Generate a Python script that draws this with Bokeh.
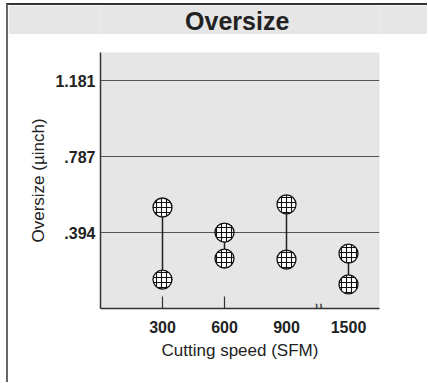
import math
import numpy as np
from bokeh.plotting import figure
from bokeh.layouts import column
from bokeh.models import FixedTicker, Label, ColumnDataSource
from bokeh.core.properties import value
from bokeh.embed import file_html
from bokeh.resources import INLINE

# ---- data ----
title_text = "Oversize"
speeds = ["300", "600", "900", "1500"]
oversize_high = [0.524, 0.394, 0.540, 0.285]
oversize_low = [0.150, 0.259, 0.254, 0.125]
y_ticks = [0.394, 0.787, 1.181]
y_tick_labels = [".394", ".787", "1.181"]
ticked_speeds = ["300", "600"]
x_label = "Cutting speed (SFM)"
y_label = "Oversize (\u00b5inch)"

FONT = "Liberation Sans"
TXT = "#222222"

x_pos = list(range(1, len(speeds) + 1))
pos_of = dict(zip(speeds, x_pos))

W = 419

# ---- title band ----
pt = figure(width=W, height=29, x_range=(0, 1), y_range=(0, 1),
            toolbar_location=None, output_backend="svg",
            x_axis_type=None, y_axis_type=None, min_border=0)
pt.grid.visible = False
pt.background_fill_color = "#e6e6e6"
pt.border_fill_color = "#e6e6e6"
pt.outline_line_color = None
pt.text(x=[0.5 - 0.01], y=[0.45], text=[title_text], text_font=value(FONT),
        text_font_style="bold", text_font_size="25px", text_color=TXT,
        text_align="center", text_baseline="middle")

# ---- main chart ----
p = figure(width=W, height=348, x_range=(0, 4.5), y_range=(0, 1.328),
           toolbar_location=None, output_backend="svg",
           min_border_left=92, min_border_right=W - 371,
           min_border_top=18, min_border_bottom=74)
p.background_fill_color = "#e6e6e6"
p.border_fill_color = "white"
p.outline_line_color = None
p.xgrid.visible = False
p.ygrid.ticker = FixedTicker(ticks=y_ticks)
p.ygrid.grid_line_color = "#555555"
p.ygrid.grid_line_width = 1.2

p.yaxis.ticker = FixedTicker(ticks=y_ticks)
p.yaxis.major_label_overrides = {t: l for t, l in zip(y_ticks, y_tick_labels)}
p.xaxis.ticker = FixedTicker(ticks=x_pos)
p.xaxis.major_label_overrides = {x: s for x, s in zip(x_pos, speeds)}

for ax in (p.xaxis, p.yaxis):
    ax.axis_line_color = "#333333"
    ax.axis_line_width = 1.5
    ax.major_tick_line_color = None
    ax.minor_tick_line_color = None
    ax.major_tick_out = 0
    ax.major_tick_in = 0
    ax.minor_tick_out = 0
    ax.minor_tick_in = 0
    ax.major_label_text_font = FONT
    ax.major_label_text_font_style = "bold"
    ax.major_label_text_font_size = "16px"
    ax.major_label_text_color = TXT
    ax.axis_label_text_font = FONT
    ax.axis_label_text_font_style = "normal"
    ax.axis_label_text_font_size = "17px"
    ax.axis_label_text_color = TXT

p.xaxis.axis_label = x_label
p.yaxis.axis_label = y_label
p.xaxis.major_label_standoff = 12
p.xaxis.axis_label_standoff = 5
p.yaxis.major_label_standoff = 5
p.yaxis.axis_label_standoff = 4

# inward tick marks only at some speeds
tick_x = [pos_of[s] for s in ticked_speeds]
p.segment(x0=tick_x, x1=tick_x, y0=[0] * len(tick_x), y1=[0.062] * len(tick_x),
          line_color="#333333", line_width=1.2)

# range lines
src = ColumnDataSource(dict(x=x_pos, lo=oversize_low, hi=oversize_high))
p.segment(x0="x", x1="x", y0="lo", y1="hi", source=src,
          line_color="#222222", line_width=1.5)

# markers
for col in ("hi", "lo"):
    p.scatter(x="x", y=col, source=src, marker="circle", size=19,
              fill_color="white", line_color="#111111", line_width=1.3,
              hatch_pattern="+", hatch_scale=5, hatch_weight=1.1,
              hatch_color="#111111")

# axis break mark between 900 and 1500
p.add_layout(Label(x=(pos_of["900"] + pos_of["1500"]) / 2, y=0,
                   text="\u2248", angle=math.pi / 2,
                   text_align="center", text_baseline="middle",
                   text_font_size="20px", text_color="#333333",
                   text_font=FONT))

layout = column(pt, p, spacing=0,
                styles={"border-left": "2px solid #666666",
                        "border-top": "2px solid #333333",
                        "margin-left": "6px", "margin-top": "3px"})

open("out.html", "w").write(file_html(layout, INLINE))
